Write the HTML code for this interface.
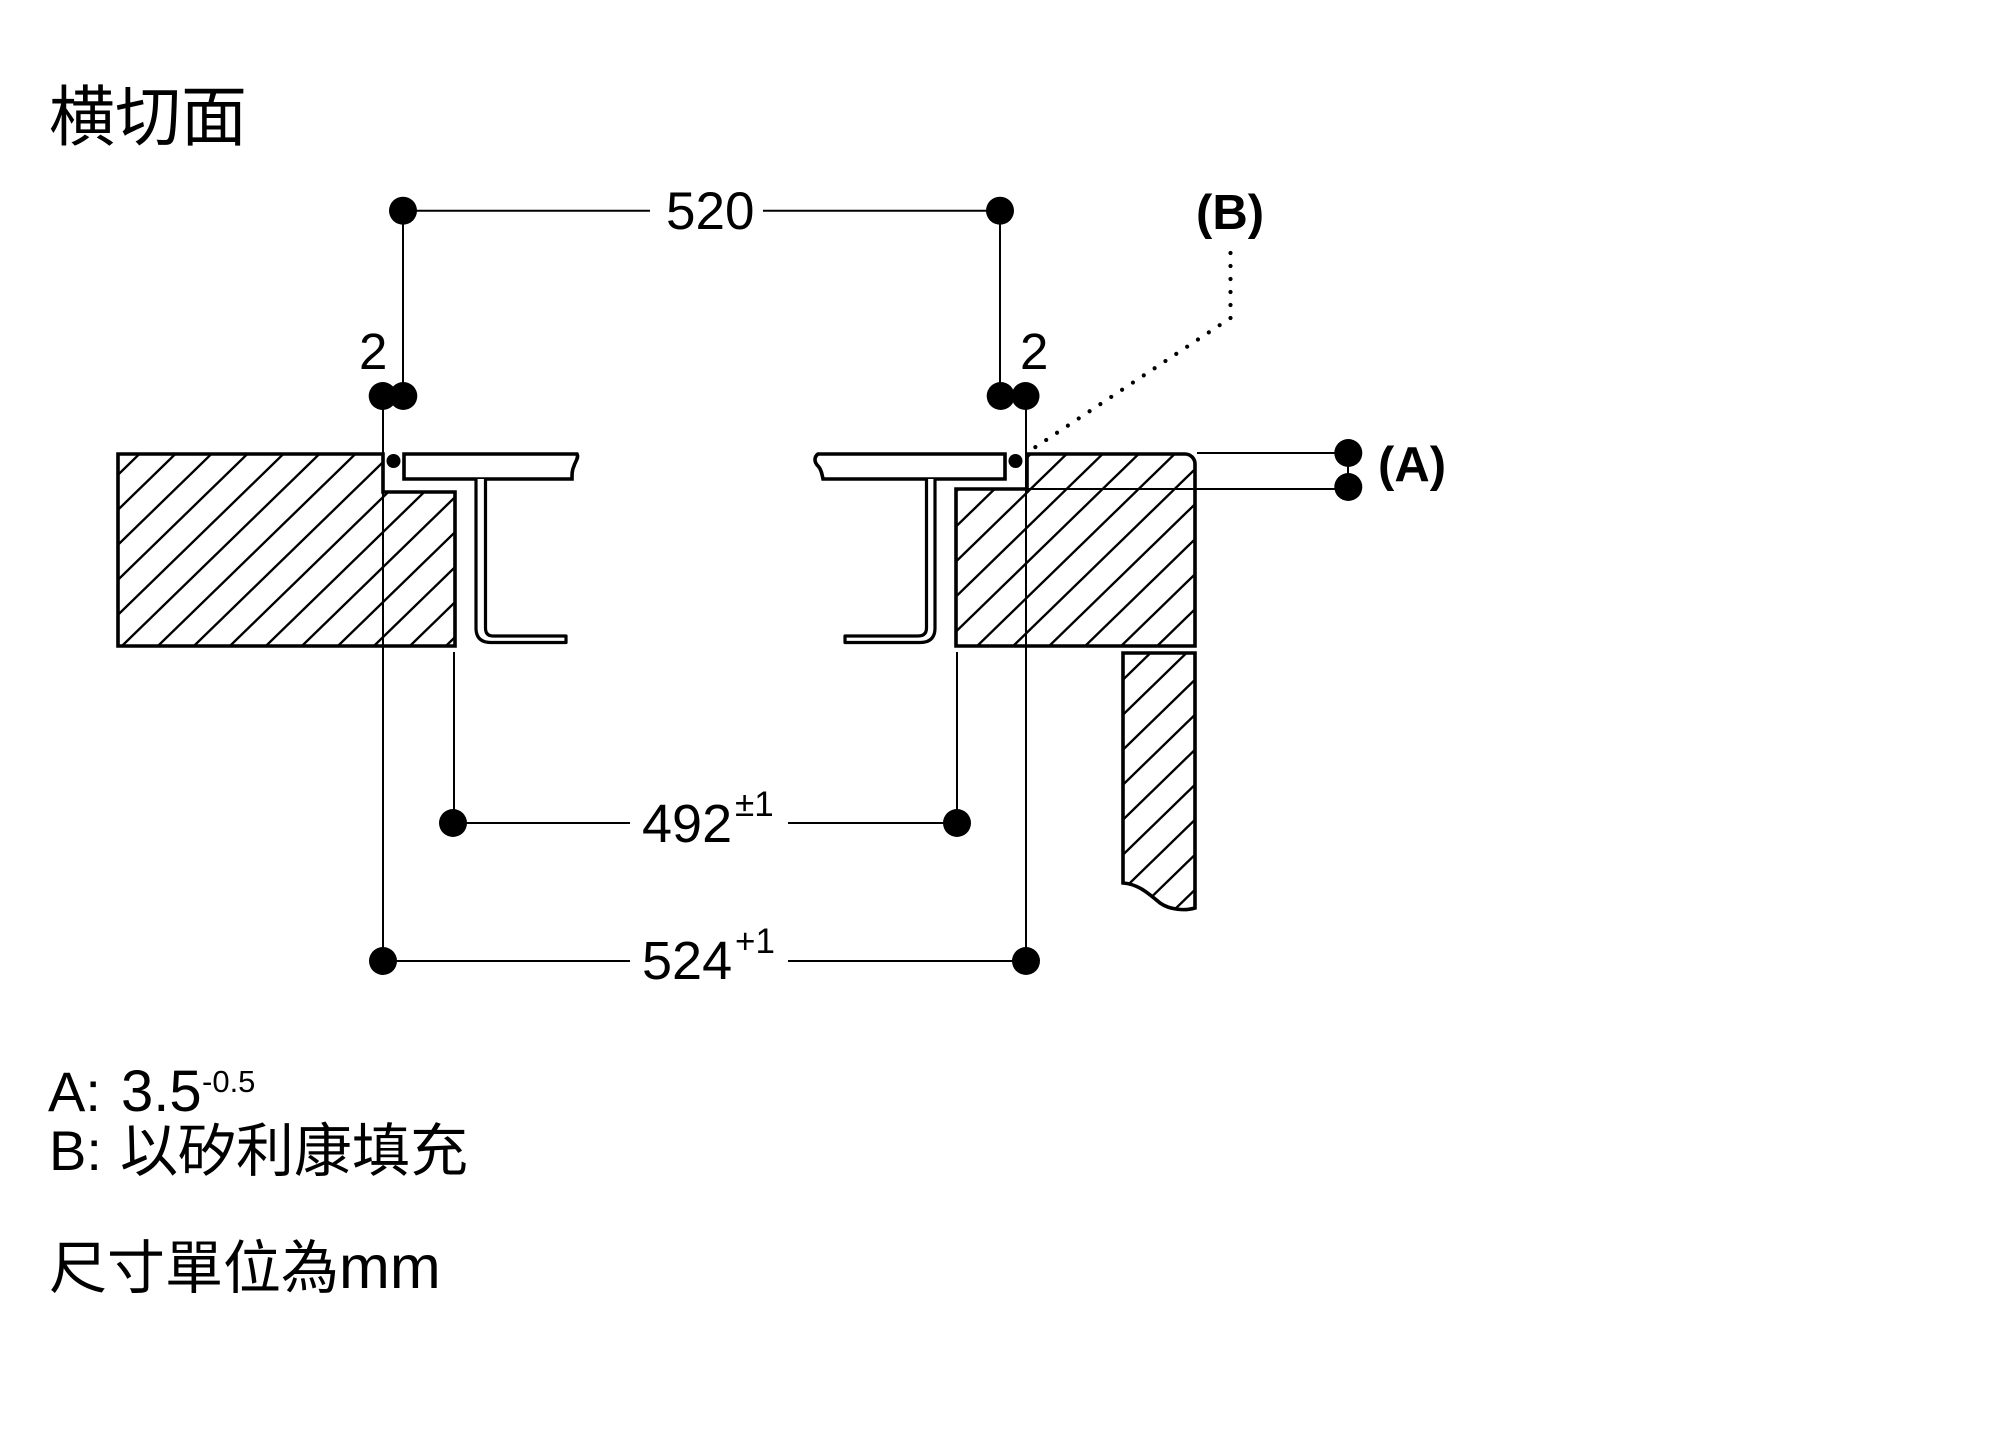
<!DOCTYPE html>
<html>
<head>
<meta charset="utf-8">
<style>
  html,body{margin:0;padding:0;background:#fff;}
  svg{display:block;}
  text{font-family:"Liberation Sans","Noto Sans CJK TC",sans-serif;fill:#000;}
  .cjk{font-family:"Liberation Sans","Noto Sans CJK TC",sans-serif;}
  .b{font-weight:bold;}
</style>
</head>
<body>
<svg width="2000" height="1452" viewBox="0 0 2000 1452" xmlns="http://www.w3.org/2000/svg">
  <defs>
    <pattern id="hL" patternUnits="userSpaceOnUse" x="0" y="29.5" width="36" height="35">
      <path d="M-36,35 L36,-35 M0,35 L36,0 M0,70 L72,0" stroke="#000" stroke-width="2.4" fill="none"/>
    </pattern>
    <pattern id="hR" patternUnits="userSpaceOnUse" x="0" y="21" width="36" height="35">
      <path d="M-36,35 L36,-35 M0,35 L36,0 M0,70 L72,0" stroke="#000" stroke-width="2.4" fill="none"/>
    </pattern>
    <pattern id="hD" patternUnits="userSpaceOnUse" x="0" y="21.5" width="36" height="35">
      <path d="M-36,35 L36,-35 M0,35 L36,0 M0,70 L72,0" stroke="#000" stroke-width="2.4" fill="none"/>
    </pattern>
  </defs>

  <rect width="2000" height="1452" fill="#fff"/>

  <!-- Title -->
  <text x="49" y="140" font-size="66" class="cjk">横切面</text>

  <!-- ===== Hatched blocks ===== -->
  <path d="M118,454 H383 V492 H455 V646 H118 Z" fill="url(#hL)" stroke="#000" stroke-width="3.6" stroke-linejoin="miter"/>
  <path d="M956,489 H1027 V454 H1185 A10,10 0 0 1 1195,464 V646 H956 Z" fill="url(#hR)" stroke="#000" stroke-width="3.6"/>
  <path d="M1123,653 H1195 V908 C1185,911 1170,910 1160,903 C1148,893 1138,884 1123,883 Z" fill="url(#hD)" stroke="#000" stroke-width="3.6"/>

  <!-- ===== Hob profiles ===== -->
  <path d="M404,454 L577,454 C579,458 575,462 574,466 C572,470 572,474 572,479 L404,479 Z" fill="#fff" stroke="#000" stroke-width="3.6"/>
  <path d="M476,479 L476,628 Q476,642.5 491,642.5 L566,642.5 L566,636 L493,636 Q485.5,636 485.5,628 L485.5,479" fill="#fff" stroke="#000" stroke-width="3.2" stroke-linejoin="round"/>

  <path d="M1005,454 L818,454 C814,457 814,462 818,466 C821,469 822,474 823,479 L1005,479 Z" fill="#fff" stroke="#000" stroke-width="3.6"/>
  <path d="M935,479 L935,628 Q935,642.5 920,642.5 L845,642.5 L845,636 L918,636 Q926.5,636 926.5,628 L926.5,479" fill="#fff" stroke="#000" stroke-width="3.2" stroke-linejoin="round"/>

  <!-- sealant dots -->
  <circle cx="393.5" cy="461" r="7" fill="#000"/>
  <circle cx="1015.5" cy="461" r="7" fill="#000"/>

  <!-- ===== Dimension lines ===== -->
  <g stroke="#000" stroke-width="2" fill="none">
    <line x1="403" y1="210.7" x2="650" y2="210.7"/>
    <line x1="763" y1="210.7" x2="1000" y2="210.7"/>
    <line x1="403" y1="210.7" x2="403" y2="396"/>
    <line x1="1000" y1="210.7" x2="1000" y2="396"/>
    <line x1="383" y1="396" x2="383" y2="961"/>
    <line x1="1026" y1="396" x2="1026" y2="961"/>
    <line x1="454" y1="652" x2="454" y2="822.7"/>
    <line x1="957" y1="652" x2="957" y2="822.7"/>
    <line x1="453" y1="823" x2="630" y2="823"/>
    <line x1="788" y1="823" x2="957" y2="823"/>
    <line x1="383" y1="961" x2="630" y2="961"/>
    <line x1="788" y1="961" x2="1026" y2="961"/>
    <line x1="1197" y1="453" x2="1348" y2="453"/>
    <line x1="1027" y1="489" x2="1348" y2="489"/>
    <line x1="1348" y1="453" x2="1348" y2="487"/>
  </g>

  <!-- dotted leader B -->
  <path d="M1230.5,253 L1230.5,318 L1028,452" fill="none" stroke="#000" stroke-width="4.2" stroke-linecap="round" stroke-dasharray="0 13"/>

  <!-- dots -->
  <g fill="#000">
    <circle cx="403" cy="210.7" r="14"/>
    <circle cx="1000" cy="210.7" r="14"/>
    <circle cx="382.7" cy="396" r="14"/>
    <circle cx="403.3" cy="396" r="14"/>
    <circle cx="1000.7" cy="396" r="14"/>
    <circle cx="1025.5" cy="396" r="14"/>
    <circle cx="453" cy="823" r="14"/>
    <circle cx="957" cy="823" r="14"/>
    <circle cx="383" cy="961" r="14"/>
    <circle cx="1026" cy="961" r="14"/>
    <circle cx="1348.3" cy="453" r="14"/>
    <circle cx="1348.3" cy="487" r="14"/>
  </g>

  <!-- dimension texts -->
  <text x="666" y="229" font-size="53">520</text>
  <text x="359" y="369" font-size="51">2</text>
  <text x="1020" y="369" font-size="51">2</text>
  <text x="642" y="842" font-size="54">492</text>
  <text x="735" y="816" font-size="35">±1</text>
  <text x="642" y="979" font-size="54">524</text>
  <text x="735" y="953" font-size="35">+1</text>
  <text x="1196" y="229" font-size="49" class="b">(B)</text>
  <text x="1378" y="481" font-size="49" class="b">(A)</text>

  <!-- legend -->
  <text x="48" y="1111" font-size="56">A:</text>
  <text x="121" y="1111" font-size="58">3.5</text>
  <text x="202" y="1092" font-size="31">-0.5</text>
  <text x="49" y="1170" font-size="56">B:</text>
  <text x="120" y="1171" font-size="58" class="cjk">以矽利康填充</text>
  <text x="49" y="1288" class="cjk"><tspan font-size="58">尺寸單位為</tspan><tspan font-size="61">mm</tspan></text>
</svg>
</body>
</html>
